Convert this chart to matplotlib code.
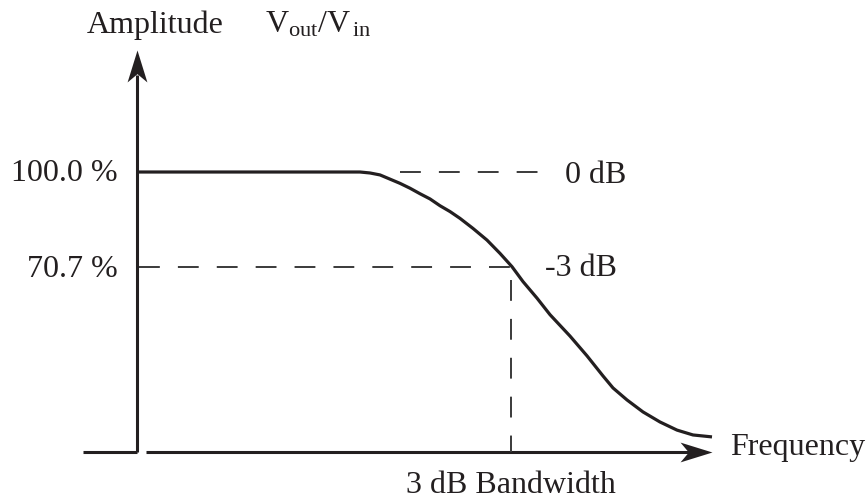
import matplotlib
matplotlib.use("Agg")
import matplotlib.pyplot as plt
from matplotlib.path import Path

plt.rcParams['font.family'] = ['Liberation Serif', 'DejaVu Serif']
plt.rcParams['mathtext.fontset'] = 'custom'
plt.rcParams['mathtext.rm'] = 'Liberation Serif'
plt.rcParams['mathtext.it'] = 'Liberation Serif:italic'
plt.rcParams['lines.scale_dashes'] = False

# frequency response (frequency in arbitrary units, amplitude in %)
freq = [2, 213, 223, 233, 243, 253, 263, 273, 283, 293, 303, 313, 323, 336,
        350, 363, 375, 386, 400, 413, 433, 450, 466, 476, 490, 506, 523, 540,
        556, 575]
amp = [100, 100, 100, 99.7, 99.1, 97.8, 96.5, 95.0, 93.3, 91.7, 89.6, 87.8,
       85.7, 82.6, 79.0, 74.9, 70.8, 66.2, 61.1, 56.0, 49.4, 43.3, 37.1, 33.4,
       29.7, 26.0, 22.9, 20.4, 18.9, 18.3]

level_pct = [100.0, 70.7]
level_labels = ['100.0 %', '70.7 %']
db_labels = ['0 dB', '-3 dB']
f_3db = 374
axis_level = 13.64

ink = '#231f20'
dash_col = '#3a3a3a'

fig = plt.figure(figsize=(8.67, 4.99), dpi=100)
ax = fig.add_axes([0, 0, 1, 1])
ax.set_xlim(-137, 730)
ax.set_ylim(-0.85, 153.05)
ax.axis('off')

# arrowhead markers (notched)
head_r = Path([(0, 0), (-1, 0.31), (-0.74, 0), (-1, -0.31), (0, 0)],
              [Path.MOVETO, Path.LINETO, Path.LINETO, Path.LINETO, Path.CLOSEPOLY])
head_u = Path([(0, 0), (0.31, -1), (0, -0.74), (-0.31, -1), (0, 0)],
              [Path.MOVETO, Path.LINETO, Path.LINETO, Path.LINETO, Path.CLOSEPOLY])

# axes
ax.plot([0, 0], [axis_level, 130], color=ink, lw=2.2, solid_capstyle='butt')
ax.plot([0], [137.6], marker=head_u, ms=46, color=ink, mew=0)
ax.plot([-54, 0], [axis_level, axis_level], color=ink, lw=2.2, solid_capstyle='butt')
ax.plot([9, 565], [axis_level, axis_level], color=ink, lw=2.2, solid_capstyle='butt')
ax.plot([575], [axis_level], marker=head_r, ms=46, color=ink, mew=0)

# dashed reference lines
dash = (0, (15, 13))
ax.plot([263, 406], [level_pct[0], level_pct[0]], color=dash_col, lw=1.4, linestyle=dash)
ax.plot([2, 390], [level_pct[1], level_pct[1]], color=dash_col, lw=1.4, linestyle=dash)
ax.plot([f_3db, f_3db], [level_pct[1] - 4, axis_level], color=dash_col, lw=1.4, linestyle=dash)

# response curve
ax.plot(freq, amp, color=ink, lw=2.3, solid_joinstyle='round', solid_capstyle='butt')

fs = 23
ax.text(-50, 142.9, 'Amplitude', fontsize=fs, color=ink, ha='left', va='baseline')
ax.text(128, 142.9, r'$\mathrm{V_{out}/V_{\,in}}$', fontsize=fs, color=ink,
        ha='left', va='baseline')
ax.text(-19, 97.1, level_labels[0], fontsize=fs, color=ink, ha='right', va='baseline')
ax.text(-19, 67.6, level_labels[1], fontsize=fs, color=ink, ha='right', va='baseline')
ax.text(428, 96.6, db_labels[0], fontsize=fs, color=ink, ha='left', va='baseline')
ax.text(408, 67.9, db_labels[1], fontsize=fs, color=ink, ha='left', va='baseline')
ax.text(593, 12.7, 'Frequency', fontsize=fs, color=ink, ha='left', va='baseline')
ax.text(f_3db, 0.9, '3 dB Bandwidth', fontsize=fs, color=ink, ha='center', va='baseline')

fig.savefig('out.png', dpi=100)
